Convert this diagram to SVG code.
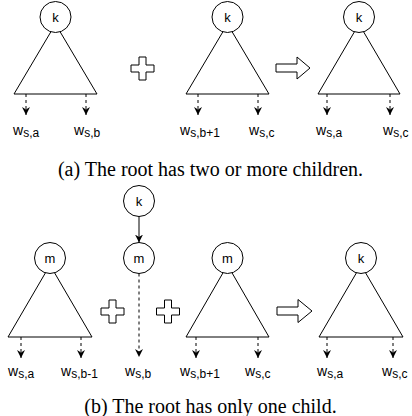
<svg xmlns="http://www.w3.org/2000/svg" width="412" height="416" viewBox="0 0 412 416">
<style>
.tri{fill:#fff;stroke:#000;stroke-width:1}
.nd{fill:#fff;stroke:#000;stroke-width:1}
.nt{font-family:"Liberation Sans",Arial,sans-serif;font-size:13px;fill:#000;text-anchor:middle}
.lb{font-family:"Liberation Sans",Arial,sans-serif;font-size:14px;fill:#000}
.sb{font-size:12px}
.da{fill:none;stroke:#000;stroke-width:1;stroke-dasharray:3,3;marker-end:url(#ah)}
.sa{fill:none;stroke:#000;stroke-width:1;marker-end:url(#ah)}
.sym{fill:#fff;stroke:#000;stroke-width:1}
.cap{font-family:"Liberation Serif","Times New Roman",serif;font-size:20px;fill:#000;text-anchor:middle}
</style>
<defs>
<marker id="ah" viewBox="0 0 8 8" refX="8" refY="4" markerWidth="8" markerHeight="8" markerUnits="userSpaceOnUse" orient="auto">
<path d="M0,0 L8,4 L0,8 L2.5,4 z" fill="#000"/>
</marker>
</defs>
<rect width="412" height="416" fill="#fff"/>

<!-- (a) -->
<g id="a-tree1">
<path class="tri" d="M55.5,24 L14,94 L97,94 Z"/>
<circle class="nd" cx="55.5" cy="17" r="15.5"/>
<text class="nt" x="55.5" y="21.5">k</text>
</g>
<g id="a-tree2">
<path class="tri" d="M227.5,24 L186,94 L269,94 Z"/>
<circle class="nd" cx="227.5" cy="17" r="15.5"/>
<text class="nt" x="227.5" y="21.5">k</text>
</g>
<g id="a-tree3">
<path class="tri" d="M359,24 L318,94 L400,94 Z"/>
<circle class="nd" cx="359" cy="17" r="15.5"/>
<text class="nt" x="359" y="21.5">k</text>
</g>
<g id="a-plus">
<path class="sym" d="M139,57 h7 v8 h8 v7 h-8 v8 h-7 v-8 h-8 v-7 h8 z"/>
</g>
<g id="a-implies">
<path class="sym" d="M276,64 h21 v-7 l13,11 l-13,11 v-7 h-21 z"/>
</g>

<!-- (b) -->
<g id="b-tree1">
<path class="tri" d="M50,265 L8,337 L92,337 Z"/>
<circle class="nd" cx="50" cy="258" r="15.5"/>
<text class="nt" x="50" y="262.5">m</text>
</g>
<g id="b-k">
<circle class="nd" cx="139" cy="201" r="15.5"/>
<text class="nt" x="139" y="205.5">k</text>
</g>
<g id="b-m">
<circle class="nd" cx="139" cy="258" r="15.5"/>
<text class="nt" x="139" y="262.5">m</text>
</g>
<g id="b-tree2">
<path class="tri" d="M227.5,265 L186,337 L269,337 Z"/>
<circle class="nd" cx="227.5" cy="258" r="15.5"/>
<text class="nt" x="227.5" y="262.5">m</text>
</g>
<g id="b-tree3">
<path class="tri" d="M361,265 L319,337 L403,337 Z"/>
<circle class="nd" cx="361" cy="258" r="15.5"/>
<text class="nt" x="361" y="262.5">k</text>
</g>
<g id="b-plus1">
<path class="sym" d="M109,300 h7 v8 h8 v7 h-8 v8 h-7 v-8 h-8 v-7 h8 z"/>
</g>
<g id="b-plus2">
<path class="sym" d="M164.5,300 h7 v8 h8 v7 h-8 v8 h-7 v-8 h-8 v-7 h8 z"/>
</g>
<g id="b-implies">
<path class="sym" d="M277,307 h21 v-7.5 l14,11.5 l-14,11.5 v-7.5 h-21 z"/>
</g>

<g id="connectors">
<path class="da" d="M26,94 V115"/>
<path class="da" d="M86,94 V115"/>
<path class="da" d="M198,94 V115"/>
<path class="da" d="M258,94 V115"/>
<path class="da" d="M327,94 V115"/>
<path class="da" d="M390,94 V115"/>
<path class="da" d="M21,337 V358"/>
<path class="da" d="M81,337 V358"/>
<path class="sa" d="M139,216.5 V242.5"/>
<path class="da" d="M139,273.5 V357"/>
<path class="da" d="M196,337 V358"/>
<path class="da" d="M258,337 V358"/>
<path class="da" d="M327,337 V358"/>
<path class="da" d="M393,337 V358"/>
</g>

<g id="labels">
<text class="lb" x="13" y="135">w<tspan class="sb" dy="2">s,a</tspan></text>
<text class="lb" x="74" y="135">w<tspan class="sb" dy="2">s,b</tspan></text>
<text class="lb" x="180" y="135">w<tspan class="sb" dy="2">s,b+1</tspan></text>
<text class="lb" x="249" y="135">w<tspan class="sb" dy="2">s,c</tspan></text>
<text class="lb" x="316" y="135">w<tspan class="sb" dy="2">s,a</tspan></text>
<text class="lb" x="383" y="135">w<tspan class="sb" dy="2">s,c</tspan></text>
<text class="lb" x="8" y="376">w<tspan class="sb" dy="2">s,a</tspan></text>
<text class="lb" x="61" y="376">w<tspan class="sb" dy="2">s,b-1</tspan></text>
<text class="lb" x="125" y="376">w<tspan class="sb" dy="2">s,b</tspan></text>
<text class="lb" x="180" y="376">w<tspan class="sb" dy="2">s,b+1</tspan></text>
<text class="lb" x="245" y="376">w<tspan class="sb" dy="2">s,c</tspan></text>
<text class="lb" x="317" y="376">w<tspan class="sb" dy="2">s,a</tspan></text>
<text class="lb" x="382" y="376">w<tspan class="sb" dy="2">s,c</tspan></text>
</g>

<text class="cap" x="210.5" y="176">(a) The root has two or more children.</text>
<text class="cap" x="210.5" y="413">(b) The root has only one child.</text>
</svg>
